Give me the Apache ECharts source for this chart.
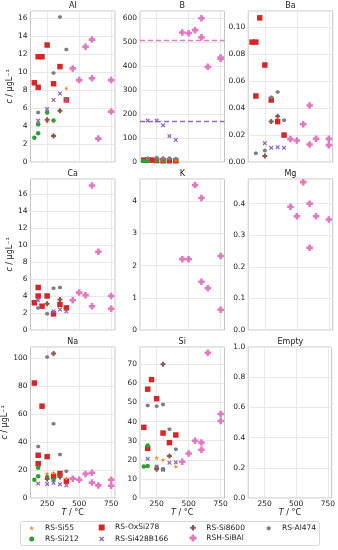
<!DOCTYPE html>
<html><head><meta charset="utf-8">
<script src="https://cdn.jsdelivr.net/npm/echarts@6/dist/echarts.min.js"></script>
<style>html,body{margin:0;padding:0;background:#fff}#c{width:338px;height:550px}</style>
</head><body><div id="c"></div>
<script>
// ---------- data ----------
const panelNames = ['Al','B','Ba','Ca','K','Mg','Na','Si','Empty'];
const xTicks = [250, 500, 750];
// temperatures (°C) of each sample series
const tSi55   = [250, 300, 400];
const tSi212  = [150, 180, 180, 250, 300];
const tOxSi   = [150, 180, 180, 210, 250, 300, 350, 400];
const tSi428  = [180, 250, 300, 350, 400];
const tSi8600 = [250, 300, 350];
const tSiBAl  = [450, 500, 550, 600, 600, 650, 750, 750];
const tAl474  = [180, 250, 300, 350, 400];
// concentrations (µg/L), null = not shown
const Al = {si55:[4.5,3.0,8.2], si212:[2.7,3.2,4.2,5.5,4.6], oxsi:[8.8,8.3,11.7,11.7,13.0,8.7,10.6,6.9],
  si428:[4.6,5.9,6.9,7.6,6.9], si8600:[4.7,2.9,5.7], sibal:[10.4,9.1,12.8,13.6,9.3,2.6,9.1,5.6], al474:[5.5,null,9.9,16.1,12.5]};
const B = {si55:[9,7,6], si212:[4,4,4,5,5], oxsi:[8,8,8,8,6,5,5,5],
  si428:[173,173,153,108,92], si8600:[14,12,12], sibal:[540,537,550,600,520,397,436,431], al474:[16,18,15,15,14]};
const Ba = {oxsi:[0.089,0.089,0.049,0.107,0.072,0.046,0.030,0.020],
  si428:[null,0.014,0.0105,0.011,0.0105], si8600:[0.0045,0.030,0.034],
  sibal:[0.017,0.016,0.028,0.042,0.013,0.0172,0.0172,0.0125], al474:[0.0065,0.0085,0.048,0.052,0.031]};
const Ca = {oxsi:[3.2,5.0,4.0,2.8,4.0,1.9,3.0,2.6], si428:[3.5,null,2.2,2.4,2.2], si8600:[3.1,null,3.6],
  sibal:[3.5,4.4,4.1,17.0,2.8,9.2,4.0,2.5], al474:[2.6,1.9,4.9,5.0,null]};
const K = {sibal:[2.2,2.2,4.5,4.1,1.5,1.3,2.3,0.63]};
const Mg = {sibal:[0.39,0.36,0.468,0.40,0.26,0.36,0.35,null]};
const Na = {si55:[17.5,18,14], si212:[13,15.5,21.5,15,13], oxsi:[82,30.5,24.5,65.5,29.5,15.5,17.5,12],
  si428:[10.3,10,10.8,9.8,9.0], si8600:[13.5,103,15], sibal:[13.8,13,17.2,18,11,9,13,8.7], al474:[36.7,100.5,53,31,19]};
const Si = {si55:[21,20,16.5], si212:[16.5,16.8,27.5,16,15], oxsi:[37,57,26,62,52,34,29,33],
  si428:[20.5,16.5,14.8,18.5,18.7], si8600:[15,70,22], sibal:[19,23.3,30,29,25.3,76,44,40.3], al474:[48.5,48,49,36,25.5]};
const Empty = {};
const bRefLines = {sibal: 510, si428: 168};
const yMax = [16.78, 630, 0.1121, 17.76, 4.69, 0.478, 107.7, 79.07, 1.0];
const yStep = [2, 100, 0.02, 2, 1, 0.1, 20, 10, 0.2];
const yDec = [0, 0, 2, 0, 0, 1, 0, 0, 1];

// ---------- styles ----------
const FONT = 'DejaVu Sans';
const PLUS = 'path://M-2,-5H2V-2H5V2H2V5H-2V2H-5V-2H-2Z';
const XSYM = 'path://M0,2L2,0L5,3L8,0L10,2L7,5L10,8L8,10L5,7L2,10L0,8L3,5Z';
const STAR = 'path://M5,0L6.2,3.6L10,3.6L6.9,5.9L8.1,9.5L5,7.3L1.9,9.5L3.1,5.9L0,3.6L3.8,3.6Z';
const HEX = 'path://M5,0L9.33,2.5L9.33,7.5L5,10L0.67,7.5L0.67,2.5Z';
const groups = [
  {key:'oxsi',  name:'RS-OxSi278',   t:tOxSi,   color:'#d62728', symbol:'rect',   size:5.5},
  {key:'si212', name:'RS-Si212',     t:tSi212,  color:'#2ca02c', symbol:'circle', size:4.5},
  {key:'si55',  name:'RS-Si55',      t:tSi55,   color:'#ff7f0e', symbol:STAR,     size:4.5},
  {key:'si428', name:'RS-Si428B166', t:tSi428,  color:'#9467bd', symbol:XSYM,     size:4.5},
  {key:'si8600',name:'RS-Si8600',    t:tSi8600, color:'#8c564b', symbol:PLUS,     size:5},
  {key:'al474', name:'RS-Al474',     t:tAl474,  color:'#7f7f7f', symbol:HEX,      size:4},
  {key:'sibal', name:'RSH-SiBAl',    t:tSiBAl,  color:'#e377c2', symbol:PLUS,     size:6.5}
];
const panelData = [Al, B, Ba, Ca, K, Mg, Na, Si, Empty];
const colLeft = [30.5, 140, 248.2], gW = 84.5;
const rowTop = [11, 179, 347], gH = 151;

const grids = [], xAxes = [], yAxes = [], series = [], titles = [];
panelNames.forEach((pn, i) => {
  const r = Math.floor(i / 3), c = i % 3;
  grids.push({left: colLeft[c], top: rowTop[r], width: gW, height: gH, show: true,
    borderColor: '#c6c6c6', borderWidth: 1, backgroundColor: '#fff', containLabel: false});
  titles.push({text: pn, left: colLeft[c] + gW / 2, top: rowTop[r] - 10, textAlign: 'center', padding: 0,
    textStyle: {fontFamily: FONT, fontSize: 8, fontWeight: 'normal', color: '#222', lineHeight: 9}});
  xAxes.push({type: 'value', gridIndex: i, min: 120, max: 780,
    axisLine: {show: false}, axisTick: {show: false, customValues: xTicks},
    splitLine: {show: true, lineStyle: {color: '#e8e8e8', width: 1}},
    axisLabel: {show: r === 2, customValues: xTicks, margin: 2, fontFamily: FONT, fontSize: 7.5, color: '#222'},
    name: r === 2 ? '{i|T} / °C' : '', nameLocation: 'middle', nameGap: 11,
    nameTextStyle: {fontFamily: FONT, fontSize: 8, color: '#222', rich: {i: {fontStyle: 'italic', fontFamily: FONT, fontSize: 8, color: '#222'}}}
  });
  const st = yStep[i], dec = yDec[i];
  yAxes.push({type: 'value', gridIndex: i, min: 0, max: yMax[i], interval: st,
    axisLine: {show: false}, axisTick: {show: false},
    splitLine: {show: true, lineStyle: {color: '#e8e8e8', width: 1}},
    axisLabel: {margin: 3, fontFamily: FONT, fontSize: 7.5, color: '#222',
      formatter: v => (Math.abs(v / st - Math.round(v / st)) < 1e-6) ? v.toFixed(dec) : ''},
    name: c === 0 ? '{i|c} / μgL⁻¹' : '', nameLocation: 'middle', nameGap: 15,
    nameTextStyle: {fontFamily: FONT, fontSize: 8, color: '#222', rich: {i: {fontStyle: 'italic', fontFamily: FONT, fontSize: 8, color: '#222'}}}
  });
  groups.forEach(g => {
    const vals = panelData[i][g.key];
    const data = vals ? g.t.map((x, k) => vals[k] == null ? null : [x, vals[k]]).filter(Boolean) : [];
    const s = {type: 'scatter', name: g.name, xAxisIndex: i, yAxisIndex: i, data: data,
      symbol: g.symbol, symbolSize: g.size, itemStyle: {color: g.color, opacity: 1}, silent: true};
    if (pn === 'B' && bRefLines[g.key] != null) {
      s.markLine = {silent: true, symbol: ['none', 'none'], label: {show: false},
        lineStyle: {color: g.color, type: [5, 3], width: 1.3}, data: [{yAxis: bRefLines[g.key]}]};
    }
    series.push(s);
  });
});

// legend: matplotlib-style 4 columns, column-major order
const legendOrder = ['RS-Si55','RS-Si212','RS-OxSi278','RS-Si428B166','RS-Si8600','RSH-SiBAl','RS-Al474'];
const legCx = [31.7, 101.7, 193, 269], legCy = [526.5, 537.5];
const legends = legendOrder.map((nm, k) => {
  const g = groups.find(q => q.name === nm);
  const col = Math.floor(k / 2), row = k % 2;
  const h = g.size + 0.5;
  return {data: [nm], left: legCx[col] - h / 2, top: legCy[row] - h / 2, padding: 0, itemWidth: h, itemHeight: h,
    selectedMode: false,
    textStyle: {fontFamily: FONT, fontSize: 7.5, color: '#222', padding: [0, 0, 0, Math.max(0, 13.3 - h / 2 - 5)]}};
});

const chart = echarts.init(document.getElementById('c'), null, {renderer: 'canvas'});
chart.setOption({
  animation: false, backgroundColor: '#fff',
  title: titles, grid: grids, xAxis: xAxes, yAxis: yAxes, series: series, legend: legends,
  graphic: [{type: 'rect', shape: {x: 20.5, y: 521.5, width: 299, height: 24, r: 2}, z: -1,
    style: {fill: '#fff', stroke: '#d6d6d6', lineWidth: 1}}]
});
</script></body></html>
